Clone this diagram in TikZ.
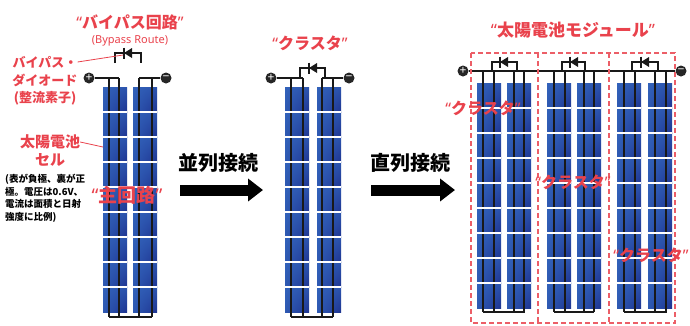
\documentclass[tikz,border=0pt]{standalone}
\usepackage{fontspec}
\setmainfont{Noto Sans}
\newfontfamily\jp{Noto Sans CJK JP}[BoldFont={Noto Sans CJK JP Black}]
\newfontfamily\lat{Noto Sans}
\usetikzlibrary{positioning,arrows.meta,shadings}

\definecolor{tagred}{RGB}{233,66,76}
\definecolor{cellhi}{RGB}{50,98,186}
\definecolor{celllo}{RGB}{30,52,145}
\newcommand{\fsz}[1]{\fontsize{#1}{#1}\selectfont}
\newcommand{\quoted}[1]{{\lat\bfseries “}#1{\lat\bfseries ”}}

\begin{document}
\begin{tikzpicture}[x=1pt, y=-1pt,
  cell/.style = {upper left=cellhi, upper right=cellhi!70!celllo, lower left=cellhi!80!celllo, lower right=celllo},
  bus/.style = {black!90, line width=1.4pt},
  wire/.style = {black!90, line width=2pt},
  gap/.style = {white, line width=1.5pt},
  term/.style = {circle, fill=black!85, text=white, inner sep=0pt, minimum size=11pt, font=\lat\bfseries\fsz{12}},
  tag/.style = {text=tagred, font=\jp\bfseries\fsz{15}, inner sep=0pt},
  head/.style = {font=\jp\bfseries\fsz{20}, inner sep=0pt},
  lead/.style = {tagred, line width=0.8pt},
  push/.style = {line width=11pt, -{Triangle[length=15pt, width=22pt]}},
  frame/.style = {tagred!85, line width=1.2pt, dash pattern=on 5pt off 3pt},
  bydiode/.pic = {
    \fill[black!90] (-4,0) -- (4,-5) -- (4,5) -- cycle;
    \draw[black!90, line width=1.6pt] (-4,-5.5) -- (-4,5.5);
  }]
\useasboundingbox (0,0) rectangle (690,325);

% --- one cluster (two strings) ---
\foreach \sx in {103,133}
  \foreach \r in {0,...,8}
    \shade[cell] (\sx,87+25*\r) rectangle ++(24,25);
\foreach \bx in {109,119,139,152}
  \draw[bus] (\bx,78) -- (\bx,317);
\draw[wire] (109,317) -- (152,317);
\foreach \sx in {103,133}
  \foreach \r in {1,...,8}
    \draw[gap] (\sx,87+25*\r) -- ++(24,0);

\node[term] (plusA) at (89,78) {+};
\node[term] (minusA) at (166,78) {−};
\coordinate (jA1) at (119,78);
\coordinate (jA2) at (139,78);
\draw[wire] (plusA) -- (jA1);
\draw[wire] (jA2) -- (minusA);
\draw[wire] (115,63) |- (141,53) -- (141,63);
\pic at (128,53) {bydiode};
\coordinate (dpoint) at (123,55);
\coordinate (cpoint) at (103,147);

% --- cluster after parallel wiring ---
\foreach \sx in {285,317}
  \foreach \r in {0,...,8}
    \shade[cell] (\sx,87+25*\r) rectangle ++(24,25);
\foreach \bx in {291,303,322,333}
  \draw[bus] (\bx,78) -- (\bx,317);
\draw[wire] (291,317) -- (333,317);
\foreach \sx in {285,317}
  \foreach \r in {1,...,8}
    \draw[gap] (\sx,87+25*\r) -- ++(24,0);

\node[term] (plusB) at (271,78) {+};
\node[term] (minusB) at (349,78) {−};
\coordinate (jB1) at (303,78);
\coordinate (jB2) at (322,78);
\draw[wire] (plusB) -- (jB1);
\draw[wire] (jB2) -- (minusB);
\draw[wire] (300,78) |- (325,68) -- (325,78);
\pic at (313,68) {bydiode};

% --- module: three clusters in series ---
\foreach \sx in {477,507,547,577,617,648}
  \foreach \r in {0,...,8}
    \shade[cell] (\sx,83+25*\r) rectangle ++(24,25);
\foreach \bx in {483,494,514,524,554,565,584,594,624,635,655,666}
  \draw[bus] (\bx,71) -- (\bx,312);
\foreach \ba/\bb in {483/525,554/594,624/667}
  \draw[wire] (\ba,312) -- (\bb,312);
\foreach \sx in {477,507,547,577,617,648}
  \foreach \r in {1,...,8}
    \draw[gap] (\sx,83+25*\r) -- ++(24,0);

\node[term] (plusC) at (463,71) {+};
\node[term] (minusC) at (681,71) {−};
\draw[wire] (plusC) -- (minusC);
\foreach \da/\db/\dm in {492/517/504,562/585/574,632/658/645} {
  \draw[wire] (\da,71) |- (\db,62) -- (\db,71);
  \pic at (\dm,62) {bydiode};
}
\draw[frame] (471,53) rectangle (675,323);
\draw[frame] (538,53) -- (538,323);
\draw[frame] (609,53) -- (609,323);

% --- arrows between the stages ---
\coordinate (parA) at (180,190);
\coordinate (parB) at (263,190);
\coordinate (serA) at (371,190);
\coordinate (serB) at (455,190);
\draw[push] (parA) -- (parB);
\draw[push] (serA) -- (serB);
\node[head] (par) at (218,163) {並列接続};
\node[head] (ser) at (410,163) {直列接続};

% --- labels ---
\node[tag, font=\jp\bfseries\fsz{16}] (bypass) at (130,22) {\quoted{バイパス回路}};
\node[text=tagred, font=\lat\fsz{11}, inner sep=0pt] (route) at (130,41) {(Bypass Route)};
\node[tag, font=\jp\bfseries\fsz{13}] (dtag1) at (45,62) {バイパス・};
\node[tag, font=\jp\bfseries\fsz{13}] (dtag2) at (45,80) {ダイオード};
\node[tag, font=\jp\bfseries\fsz{13}] (dtag3) at (45,98) {(整流素子)};
\draw[lead] (dtag1.east) -- (dpoint);
\node[tag] (ctag1) at (50,142) {太陽電池};
\node[tag] (ctag2) at (50,160) {セル};
\draw[lead] (ctag1.east) -- (cpoint);
\node[anchor=north west, align=left, inner sep=0pt, font=\jp\bfseries\fontsize{9.5}{12.7}\selectfont] (note) at (5,174)
  {(表が負極、裏が正\\極。電圧は0.6V、\\電流は面積と日射\\強度に比例)};
\node[tag, font=\jp\bfseries\fsz{19}] (main) at (127,195) {\quoted{主回路}};
\node[tag, font=\jp\bfseries\fsz{16}] (clB) at (310,43) {\quoted{クラスタ}};
\node[tag, font=\jp\bfseries\fsz{17}] (module) at (573,30) {\quoted{太陽電池モジュール}};
\node[tag, font=\jp\bfseries\fsz{16}] (clC1) at (483,108) {\quoted{クラスタ}};
\node[tag, font=\jp\bfseries\fsz{16}] (clC2) at (573,182) {\quoted{クラスタ}};
\node[tag, font=\jp\bfseries\fsz{16}] (clC3) at (651,255) {\quoted{クラスタ}};
\end{tikzpicture}
\end{document}
